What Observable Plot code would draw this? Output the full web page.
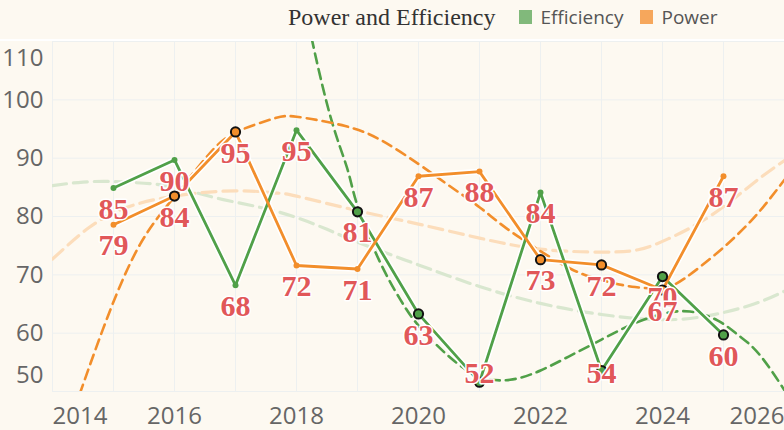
<!DOCTYPE html>
<html>
<head>
<meta charset="utf-8">
<script src="https://cdn.jsdelivr.net/npm/d3@7"></script>
<script src="https://cdn.jsdelivr.net/npm/@observablehq/plot@0.6"></script>
<style>
html, body { margin: 0; padding: 0; background: #fdf9f1; }
#legend { height: 34px; padding-bottom: 5px; border-bottom: 2px solid #ffffff; display: flex; align-items: center; padding-left: 288px; box-sizing: content-box; }
#legend .title { font-family: "Liberation Serif", serif; font-size: 24px; color: #333; margin-right: 24px; }
#legend .sw { display: inline-block; width: 13px; height: 14px; margin-right: 8px; }
#legend .lab { font-family: "Open Sans", sans-serif; font-size: 19px; color: #555; margin-right: 17px; }
#chart svg { display: block; }
</style>
</head>
<body>
<div id="legend"></div>
<div id="chart"></div>
<script>
// ---- data ----
const chartTitle = "Power and Efficiency";
const seriesNames = ["Efficiency", "Power"];
const seriesLine = ["#50a048", "#f28e2b"];
const seriesSwatch = ["#81b97b", "#f6a75c"];
const seriesFaint = ["#d9e7cf", "#fcddbb"];

const years = [2015, 2016, 2017, 2018, 2019, 2020, 2021, 2022, 2023, 2024, 2025];
const efficiency = [84.9, 89.7, 68.2, 94.8, 80.8, 63.3, 51.6, 84.1, 53.6, 69.7, 59.7];
const power = [78.6, 83.5, 94.5, 71.6, 71.0, 86.9, 87.7, 72.6, 71.7, 67.4, 86.9];
const effHighlight = [0, 0, 0, 0, 1, 1, 1, 0, 1, 1, 1];
const powHighlight = [0, 1, 1, 0, 0, 0, 0, 1, 1, 1, 0];

// trend curves (year, value)
const effTrendYears = [2018.15, 2018.26, 2018.56, 2018.83, 2019, 2019.35, 2019.7, 2020, 2020.5, 2021, 2021.5, 2022, 2022.5, 2023, 2023.5, 2024, 2024.45, 2024.9, 2025.25, 2025.6, 2026, 2026.1];
const effTrendValues = [116, 110, 97, 88.3, 81.8, 72.6, 65.8, 61.3, 56, 52.6, 52, 53.6, 56.2, 58.9, 61.5, 63.3, 63.7, 62.2, 59.6, 56.2, 50.2, 48.5];
const powTrendYears = [2014.35, 2014.45, 2014.9, 2015.44, 2016, 2016.55, 2017, 2017.6, 2018, 2018.8, 2019.4, 2020, 2020.5, 2021, 2021.4, 2021.95, 2022.5, 2023, 2023.55, 2024, 2024.35, 2025, 2025.55, 2026];
const powTrendValues = [47, 49.7, 62.7, 75.3, 83.4, 90.5, 94.4, 96.7, 97.1, 95.5, 93, 89, 85.3, 81.6, 78.3, 74.4, 71, 69.1, 67.9, 67.8, 69.3, 74.7, 80.4, 86.3];
const effFaintYears = [2014, 2014.5, 2015, 2015.5, 2016, 2016.8, 2017.7, 2018.5, 2019, 2020, 2021, 2022, 2023, 2024, 2024.8, 2025.5, 2026];
const effFaintValues = [85.3, 85.9, 86.0, 85.7, 85.0, 82.9, 80.8, 77.8, 75.6, 71.7, 68.0, 65.1, 63.2, 62.3, 63.1, 65.0, 67.2];
const powFaintYears = [2014, 2014.6, 2015.2, 2016, 2017, 2017.7, 2018, 2019, 2020, 2021, 2022, 2023, 2023.6, 2024.1, 2024.8, 2025.5, 2026];
const powFaintValues = [72.7, 78.1, 81.5, 83.5, 84.4, 84.0, 83.5, 81.0, 78.7, 76.3, 74.4, 73.9, 74.3, 76.2, 80.2, 85.8, 89.6];

const xTicks = [2014, 2016, 2018, 2020, 2022, 2024, 2026];
const yTicks = [50, 60, 70, 80, 90, 100, 110];
const xGrid = [2014, 2015, 2016, 2017, 2018, 2019, 2020, 2021, 2022, 2023, 2024, 2025, 2026];
const labelFloor = 57; // labels of values below this sit at the bottom edge

// ---- legend ----
const legend = document.getElementById("legend");
legend.innerHTML = `<span class="title">${chartTitle}</span>` +
  seriesNames.map((n, i) => `<span class="sw" style="background:${seriesSwatch[i]}"></span><span class="lab">${n}</span>`).join("");

// ---- tables ----
const pts = [];
years.forEach((yr, i) => {
  pts.push({series: seriesNames[0], year: yr, value: efficiency[i], hi: effHighlight[i], color: seriesLine[0]});
  pts.push({series: seriesNames[1], year: yr, value: power[i], hi: powHighlight[i], color: seriesLine[1]});
});
const mk = (ys, vs) => ys.map((y, i) => ({year: y, value: vs[i]}));
const effTrend = mk(effTrendYears, effTrendValues);
const powTrend = mk(powTrendYears, powTrendValues);
const effFaint = mk(effFaintYears, effFaintValues);
const powFaint = mk(powFaintYears, powFaintValues);

const fmt = d3.format(".0f");
const gridColor = "#edf0f0";
const tickColor = "#666666";
const axisCommon = {tickSize: 0, fontSize: 24, fill: tickColor, fontFamily: "Open Sans", label: null};

const labelStyle = {
  text: d => fmt(d.value), fill: "#e15759", stroke: "white", strokeWidth: 3, paintOrder: "stroke",
  fontFamily: "Liberation Serif", fontWeight: "bold", fontSize: 30, lineAnchor: "middle"
};

const chart = Plot.plot({
  width: 784,
  height: 389,
  marginLeft: 52, marginRight: 0, marginTop: 0, marginBottom: 39,
  style: {background: "transparent", overflow: "visible", fontFamily: "Open Sans"},
  x: {domain: [2014, 2026], label: null},
  y: {domain: [50, 110], label: null},
  marks: [
    Plot.gridX(xGrid, {stroke: gridColor, strokeOpacity: 1}),
    Plot.gridY(yTicks, {stroke: gridColor, strokeOpacity: 1}),
    Plot.axisX(xTicks.slice(1, -1), {...axisCommon, tickPadding: 15, tickFormat: d => String(d)}),
    Plot.axisX([xTicks[0]], {...axisCommon, tickPadding: 15, tickFormat: d => String(d), textAnchor: "start"}),
    Plot.axisX([xTicks[xTicks.length - 1]], {...axisCommon, tickPadding: 15, tickFormat: d => String(d), textAnchor: "end"}),
    Plot.axisY(yTicks.slice(1, -1), {...axisCommon, tickPadding: 9}),
    Plot.axisY([yTicks[yTicks.length - 1]], {...axisCommon, tickPadding: 9, dy: 17}),
    Plot.axisY([yTicks[0]], {...axisCommon, tickPadding: 9, dy: -16}),
    // faint trend curves
    Plot.line(effFaint, {x: "year", y: "value", stroke: seriesFaint[0], strokeWidth: 3.2, strokeDasharray: "14,7", curve: "natural", clip: true}),
    Plot.line(powFaint, {x: "year", y: "value", stroke: seriesFaint[1], strokeWidth: 3.2, strokeDasharray: "14,7", curve: "natural", clip: true}),
    // dark trend curves
    Plot.line(effTrend, {x: "year", y: "value", stroke: seriesLine[0], strokeWidth: 2.6, strokeDasharray: "10,6", curve: "natural", clip: true}),
    Plot.line(powTrend, {x: "year", y: "value", stroke: seriesLine[1], strokeWidth: 2.6, strokeDasharray: "10,6", curve: "natural", clip: true}),
    // solid lines with halo
    Plot.line(pts, {x: "year", y: "value", z: "series", stroke: "white", strokeWidth: 6}),
    Plot.line(pts, {x: "year", y: "value", z: "series", stroke: "color", strokeWidth: 2.8}),
    // dots
    Plot.dot(pts.filter(d => !d.hi), {x: "year", y: "value", r: 3, fill: "color"}),
    Plot.dot(pts.filter(d => d.hi), {x: "year", y: "value", r: 4.6, fill: "color", stroke: "#111", strokeWidth: 2}),
    // value labels
    Plot.text(pts.filter(d => d.value >= labelFloor), {x: "year", y: "value", dy: 21, ...labelStyle}),
    Plot.text(pts.filter(d => d.value < labelFloor), {x: "year", frameAnchor: "bottom", dy: -18.5, ...labelStyle})
  ]
});
document.getElementById("chart").appendChild(chart);
</script>
</body>
</html>
